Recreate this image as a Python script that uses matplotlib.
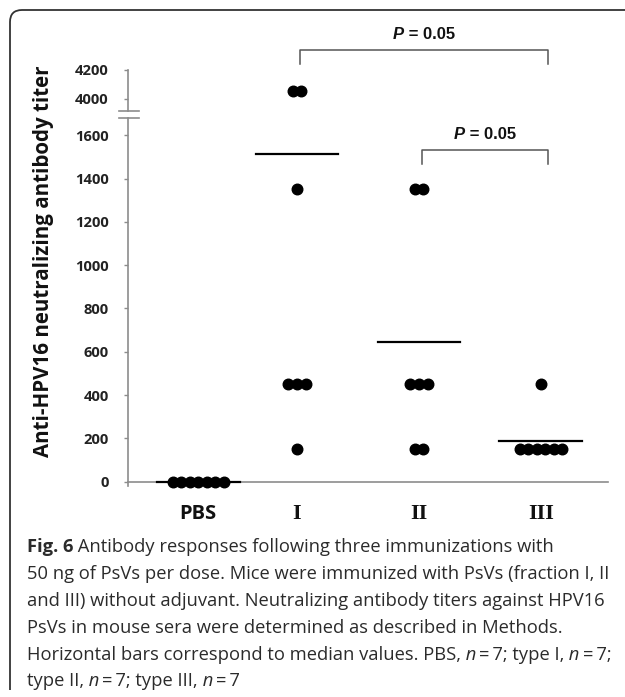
import numpy as np
import matplotlib.pyplot as plt
from matplotlib.lines import Line2D
from matplotlib.path import Path
from matplotlib.patches import PathPatch
from matplotlib.transforms import blended_transform_factory

# 데이터
groups = ['PBS', 'I', 'II', 'III']
pbs_titer = [0, 0, 0, 0, 0, 0, 0]
type1_titer = [4050, 4050, 1350, 450, 450, 450, 150]
type2_titer = [1350, 1350, 450, 450, 450, 150, 150]
type3_titer = [450, 150, 150, 150, 150, 150, 150]
bar_values = [0, 1512, 645, 190]      # 가로 막대 위치
low_ticks = [0, 200, 400, 600, 800, 1000, 1200, 1400, 1600]
high_ticks = [4000, 4200]
p_labels = ['0.05', '0.05']
p_pairs = [(1, 3), (2, 3)]

ts = '\u2009'  # 좁은 공백
caption = [
    [('Fig. 6', 'b'), (' Antibody responses following three immunizations with', 'r')],
    [('50 ng of PsVs per dose. Mice were immunized with PsVs (fraction I, II', 'r')],
    [('and III) without adjuvant. Neutralizing antibody titers against HPV16', 'r')],
    [('PsVs in mouse sera were determined as described in Methods.', 'r')],
    [('Horizontal bars correspond to median values. PBS,', 'r'), (' n', 'i'),
     (ts + '=' + ts + '7; type I,', 'r'), (' n', 'i'), (ts + '=' + ts + '7;', 'r')],
    [('type II,', 'r'), (' n', 'i'), (ts + '=' + ts + '7; type III,', 'r'), (' n', 'i'),
     (ts + '=' + ts + '7', 'r')],
]

W, H = 625, 697
def fx(x):
    return x / W
def fy(y):
    return 1 - y / H

group_x = [1.19, 2, 3, 4]
axis_gray = '#8c8c8c'
fig = plt.figure(figsize=(W / 100, H / 100), dpi=100)

ax = fig.add_axes([fx(128.3), fy(485.7), fx(607.7) - fx(128.3), fy(118.3) - fy(485.7)])
ax_top = fig.add_axes([fx(128.3), fy(110.7), fx(607.7) - fx(128.3), fy(69.5) - fy(110.7)], sharex=ax)
ax.set_xlim(0.617, 4.547)
ax.set_ylim(-18.5, 1678)
ax_top.set_ylim(3919, 4200)
brk = 1678

# 점 (같은 값은 옆으로 나란히)
spacing = 0.07
for gx, vals in zip(group_x, [pbs_titer, type1_titer, type2_titer, type3_titer]):
    vals = np.array(vals)
    for v in np.unique(vals):
        n = np.sum(vals == v)
        xs = gx + (np.arange(n) - (n - 1) / 2) * spacing
        target = ax if v < brk else ax_top
        target.plot(xs, [v] * n, 'o', color='black', ms=7.6, mec='black',
                    clip_on=False, zorder=4)

for gx, b in zip(group_x, bar_values):
    ax.plot([gx - 0.34, gx + 0.34], [b, b], color='black', lw=1.6, zorder=3, clip_on=False)

# 축 스타일
for a in (ax, ax_top):
    a.spines['right'].set_visible(False)
    a.spines['top'].set_visible(False)
    a.spines['left'].set_color(axis_gray)
    a.spines['left'].set_linewidth(1.2)
    a.tick_params(axis='y', direction='out', length=3, width=1, color=axis_gray,
                  pad=11, labelsize=10.6, labelcolor='#222222')
ax.spines['bottom'].set_position(('data', 0))
ax.spines['bottom'].set_color(axis_gray)
ax.spines['bottom'].set_linewidth(1.2)
ax_top.spines['bottom'].set_visible(False)
ax_top.tick_params(axis='x', bottom=False, labelbottom=False)

ax.set_yticks(low_ticks)
ax_top.set_yticks(high_ticks)
for a in (ax, ax_top):
    for lab in a.get_yticklabels():
        lab.set_fontfamily('Open Sans')
        lab.set_fontweight('bold')

ax.set_xticks(group_x, groups)
ax.tick_params(axis='x', length=0, pad=16)
for lab in ax.get_xticklabels():
    if lab.get_text() == 'PBS':
        lab.set_fontfamily('Open Sans')
        lab.set_fontsize(14.5)
    else:
        lab.set_fontfamily('Liberation Serif')
        lab.set_fontsize(16)
    lab.set_fontweight('bold')
    lab.set_color('#111111')

# 축 끊김 표시
for yb in (110.7, 118.3):
    fig.add_artist(Line2D([fx(119), fx(139)], [fy(yb), fy(yb)], color=axis_gray, lw=1.2))

fig.text(fx(44), fy(261), 'Anti-HPV16 neutralizing antibody titer', rotation=90,
         ha='center', va='center', fontfamily='Open Sans', fontweight='bold',
         fontsize=14.8, color='#111111')

# 여러 글꼴이 섞인 한 줄 텍스트
def draw_runs(x, y, runs, center=False):
    texts = []
    for i, (s, kw) in enumerate(runs):
        if i == 0:
            t = fig.text(x, y, s, va='baseline', ha='left', **kw)
        else:
            t = ax.annotate(s, xy=(1, 0), xycoords=texts[-1], va='bottom', ha='left',
                            annotation_clip=False, **kw)
        texts.append(t)
    if center:
        fig.canvas.draw()
        x0 = texts[0].get_window_extent().x0
        x1 = texts[-1].get_window_extent().x1
        texts[0].set_x(x - (x1 - x0) / 2 / W)
    return texts

# P 값 괄호
tr = blended_transform_factory(ax.transData, fig.transFigure)
for (i, j), p, ytop in zip(p_pairs, p_labels, [50, 150]):
    x1 = group_x[i] + 0.025
    x2 = group_x[j] + 0.057
    ax.plot([x1, x1, x2, x2], [fy(ytop + 14), fy(ytop), fy(ytop), fy(ytop + 14)],
            transform=tr, clip_on=False, color='#555555', lw=1.1)
    xc = tr.transform(((x1 + x2) / 2, 0))[0] / W
    pk = dict(fontfamily='Liberation Sans', fontsize=12, color='#111111')
    draw_runs(xc, fy(ytop - 10.7), [('P', dict(pk, fontweight='bold', fontstyle='italic')),
                                      (' = ' + p, dict(pk, fontweight='bold'))], center=True)

# 캡션
styles = {'r': dict(fontweight='normal'), 'b': dict(fontweight='bold'),
          'i': dict(fontstyle='italic')}
cap_y = [552.3, 579, 606, 633, 659.5, 686]
for line, yb in zip(caption, cap_y):
    runs = [(s, dict(family=['Open Sans', 'DejaVu Sans'], fontsize=13.2, color='#2b2b2b',
                     **styles[k]))
            for s, k in line]
    draw_runs(fx(26.7), fy(yb), runs)

# 그림 테두리
r = 12
verts = [(10, 690), (10, 10 + r), (10, 10), (10 + r, 10), (W + 5, 10)]
verts = [(fx(a), fy(b)) for a, b in verts]
codes = [Path.MOVETO, Path.LINETO, Path.CURVE3, Path.CURVE3, Path.LINETO]
fig.add_artist(PathPatch(Path(verts, codes), fill=False, edgecolor='#333333', lw=1.3,
                         transform=fig.transFigure))

fig.savefig('out.png', dpi=100)
